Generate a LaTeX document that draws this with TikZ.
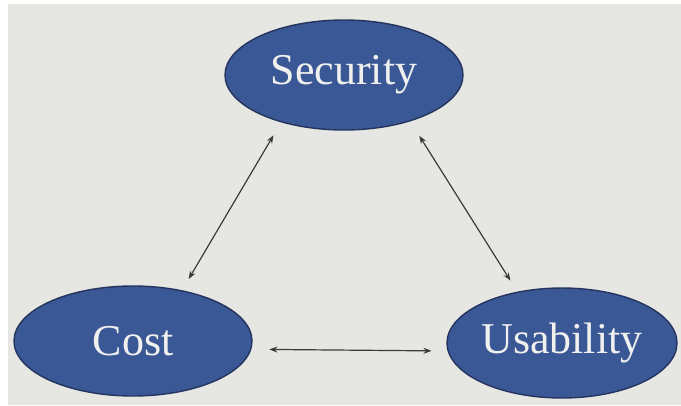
\documentclass[tikz,border=0pt]{standalone}
\usepackage{fontspec}
\setmainfont{Liberation Serif}
\usepackage{xcolor}
\usetikzlibrary{arrows.meta,positioning,shapes.geometric}
\definecolor{slide}{HTML}{E6E6E2}
\definecolor{oval}{HTML}{3B5896}
\definecolor{ovalrim}{HTML}{24345E}
\definecolor{ovaltext}{HTML}{F0F1EE}
\definecolor{link}{HTML}{3A3A3A}

\begin{document}
\begin{tikzpicture}[x=1pt, y=-1pt,
        goal/.style={ellipse, draw=ovalrim, line width=1.4pt, fill=oval,
            minimum width=238pt, minimum height=110pt, inner sep=0pt,
            text=ovaltext, font=\fontsize{44}{46}\selectfont},
        tradeoff/.style={draw=link, line width=1.2pt,
            {Stealth[length=8pt,width=6pt]}-{Stealth[length=8pt,width=6pt]}}]
        \useasboundingbox (0,0) rectangle (681,405);
        \fill[white] (0,0) rectangle (681,405);
        \fill[slide] (8,4) rectangle (681,405);

        \node[goal] (sec) at (344,75) {Security};
        \node[goal] (cost) at (133,341) {Cost};
        \node[goal, minimum width=230pt] (use) at (562,343) {Usability};

        \draw[tradeoff, shorten <=15pt, shorten >=13pt] (sec.217) -- (cost.46);
        \draw[tradeoff, shorten <=17pt, shorten >=13pt] (sec.325) -- (use.131);
        \draw[tradeoff, shorten <=18pt, shorten >=16pt] (cost.356) -- (use.184);
    \end{tikzpicture}
\end{document}
